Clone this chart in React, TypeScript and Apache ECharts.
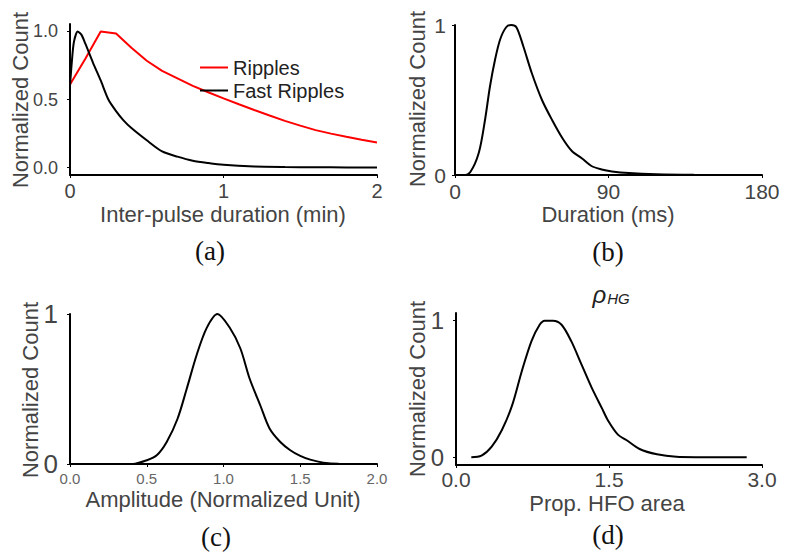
import React, { useEffect, useRef } from "react";
import * as echarts from "echarts";

// (a) Inter-pulse duration (min)
const ripplesX = [0, 0.1, 0.2, 0.3, 0.4, 0.5, 0.6, 0.7, 0.8, 0.9, 1.0, 1.1, 1.2, 1.3, 1.4, 1.5, 1.6, 1.7, 1.8, 1.9, 2.0];
const ripplesY = [0.61, 0.8, 1.0, 0.985, 0.88, 0.785, 0.71, 0.655, 0.6, 0.553, 0.508, 0.465, 0.423, 0.382, 0.343, 0.308, 0.275, 0.249, 0.226, 0.204, 0.184];
const fastX = [0, 0.01, 0.025, 0.05, 0.075, 0.1, 0.15, 0.2, 0.25, 0.3, 0.35, 0.4, 0.5, 0.6, 0.7, 0.8, 0.9, 1.0, 1.2, 1.4, 1.6, 1.8, 2.0];
const fastY = [0.6, 0.75, 0.92, 1.0, 0.975, 0.91, 0.77, 0.64, 0.5, 0.415, 0.345, 0.29, 0.2, 0.118, 0.08, 0.05, 0.033, 0.02, 0.008, 0.004, 0.002, 0.001, 0.0];

// (b) Duration (ms)
const durX = [0, 5, 9, 14, 17.5, 20.5, 23.5, 26.5, 30, 33, 36, 40, 45, 51, 57, 63, 68.5, 74.5, 80, 86, 92, 102, 118, 140, 170];
const durY = [0, 0, 0.02, 0.15, 0.36, 0.59, 0.77, 0.905, 0.985, 1.0, 0.985, 0.86, 0.68, 0.5, 0.365, 0.245, 0.16, 0.11, 0.06, 0.037, 0.024, 0.013, 0.005, 0.001, 0];

// (c) Amplitude (Normalized Unit)
const ampX = [0, 0.41, 0.5, 0.565, 0.63, 0.7, 0.76, 0.826, 0.89, 0.96, 1.04, 1.11, 1.17, 1.24, 1.3, 1.37, 1.435, 1.5, 1.565, 1.65, 1.75, 2.0];
const ampY = [0, 0, 0.025, 0.058, 0.147, 0.3, 0.5, 0.73, 0.906, 1.0, 0.91, 0.77, 0.57, 0.39, 0.237, 0.147, 0.092, 0.054, 0.029, 0.009, 0.001, 0];

// (d) Prop. HFO area
const areaX = [0.15, 0.25, 0.35, 0.45, 0.55, 0.645, 0.74, 0.82, 0.87, 0.95, 1.035, 1.13, 1.23, 1.33, 1.43, 1.49, 1.59, 1.67, 1.8, 1.97, 2.16, 2.4, 2.85];
const areaY = [0, 0.012, 0.078, 0.2, 0.38, 0.63, 0.85, 0.97, 1.0, 1.0, 0.97, 0.85, 0.68, 0.51, 0.36, 0.27, 0.164, 0.127, 0.061, 0.022, 0.004, 0.001, 0];

const yTicksA = [0, 0.5, 1];
const yTicksD = [0, 1];

const SANS = "'Liberation Sans', Arial, Helvetica, sans-serif";
const SERIF = "'Liberation Serif', 'Times New Roman', serif";
const TXT = "#444";

const zip = (xs: number[], ys: number[]) => xs.map((x, i) => [x, ys[i]]);

function xAxisCfg(gridIndex: number, min: number, max: number, interval: number, fontSize: number, margin: number, fmt: (v: number) => string, color = TXT) {
  return {
    type: "value",
    gridIndex,
    min,
    max,
    interval,
    axisLine: { show: true, onZero: false, lineStyle: { color: "#000", width: 2 } },
    axisTick: { show: true, length: 3, lineStyle: { color: "#000", width: 1 } },
    splitLine: { show: false },
    axisLabel: { fontSize, fontFamily: SANS, color, margin, formatter: fmt },
  };
}

function yAxisCfg(gridIndex: number, min: number, max: number, fontSize: number, margin: number, fmt: (v: number) => string, custom?: number[]) {
  const cfg: any = {
    type: "value",
    gridIndex,
    min,
    max,
    axisLine: { show: true, onZero: false, lineStyle: { color: "#000", width: 2 } },
    axisTick: { show: true, length: 3, lineStyle: { color: "#000", width: 1 } },
    splitLine: { show: false },
    axisLabel: { fontSize, fontFamily: SANS, color: TXT, margin, formatter: fmt },
  };
  if (custom) {
    cfg.axisLabel.customValues = custom;
    cfg.axisTick.customValues = custom;
  } else {
    cfg.interval = 1;
  }
  return cfg;
}

function lineSeries(name: string, xi: number, data: number[][], color: string, smooth: number | boolean) {
  return {
    name,
    type: "line",
    xAxisIndex: xi,
    yAxisIndex: xi,
    data,
    showSymbol: false,
    symbol: "none",
    smooth,
    lineStyle: { color, width: 2 },
    itemStyle: { color },
  };
}

function txt(text: string, x: number, y: number, fontSize: number, rotate = false, font = SANS, color = TXT) {
  return {
    type: "text",
    x,
    y,
    rotation: rotate ? Math.PI / 2 : 0,
    style: {
      text,
      fontSize,
      fontFamily: font,
      fill: color,
      align: "center",
      verticalAlign: "middle",
    },
  };
}

export default function App() {
  const ref = useRef<HTMLDivElement>(null);
  useEffect(() => {
    document.body.style.margin = "0";
    if (!ref.current) return;
    const chart = echarts.init(ref.current, undefined, { renderer: "svg" });
    const option: any = {
      animation: false,
      backgroundColor: "#fff",
      grid: [
        { left: 70, top: 24, width: 307, height: 151, outerBoundsMode: "none" },
        { left: 455, top: 25, width: 307, height: 150, outerBoundsMode: "none" },
        { left: 70, top: 314, width: 307, height: 150, outerBoundsMode: "none" },
        { left: 456, top: 313, width: 306, height: 152, outerBoundsMode: "none" },
      ],
      xAxis: [
        xAxisCfg(0, 0, 2, 1, 20, 6, (v: number) => String(v)),
        xAxisCfg(1, 0, 180, 90, 21, 6, (v: number) => String(v)),
        xAxisCfg(2, 0, 2, 0.5, 15, 7, (v: number) => v.toFixed(1), "#666"),
        xAxisCfg(3, 0, 3, 1.5, 21, 4, (v: number) => v.toFixed(1)),
      ],
      yAxis: [
        yAxisCfg(0, -0.055, 1.055, 18, 12, (v: number) => v.toFixed(1), yTicksA),
        yAxisCfg(1, 0, 1, 21, 9, (v: number) => String(v)),
        yAxisCfg(2, 0, 1, 26, 12, (v: number) => String(v)),
        yAxisCfg(3, -0.056, 1.056, 24, 12, (v: number) => String(v), yTicksD),
      ],
      legend: {
        show: true,
        orient: "vertical",
        left: 200,
        top: 56,
        padding: 0,
        itemGap: 0,
        itemWidth: 28,
        itemHeight: 2,
        textStyle: { fontSize: 20, fontFamily: SANS, color: "#222", lineHeight: 23 },
        data: [
          { name: "Ripples", icon: "rect" },
          { name: "Fast Ripples", icon: "rect" },
        ],
      },
      series: [
        lineSeries("Ripples", 0, zip(ripplesX, ripplesY), "#ff0000", false),
        lineSeries("Fast Ripples", 0, zip(fastX, fastY), "#000000", 0.25),
        lineSeries("Duration", 1, zip(durX, durY), "#000000", 0.3),
        lineSeries("Amplitude", 2, zip(ampX, ampY), "#000000", 0.3),
        lineSeries("Prop. HFO area", 3, zip(areaX, areaY), "#000000", 0.3),
      ],
      graphic: [
        txt("Normalized Count", 20, 100, 22, true),
        txt("Normalized Count", 417, 99, 22, true),
        txt("Normalized Count", 30, 390, 22, true),
        txt("Normalized Count", 417, 389, 22, true),
        txt("Inter-pulse duration (min)", 223, 214, 22),
        txt("Duration (ms)", 608, 214, 22),
        txt("Amplitude (Normalized Unit)", 223, 499, 22),
        txt("Prop. HFO area", 607, 503, 22),
        txt("(a)", 210, 251, 27, false, SERIF, "#111"),
        txt("(b)", 608, 252, 27, false, SERIF, "#111"),
        txt("(c)", 216, 537, 27, false, SERIF, "#111"),
        txt("(d)", 608, 535, 27, false, SERIF, "#111"),
        {
          type: "text",
          x: 611,
          y: 294,
          style: {
            text: "{p|ρ}{s|HG}",
            align: "center",
            verticalAlign: "middle",
            fill: "#333",
            rich: {
              p: { fontSize: 24, fontFamily: SANS, fontStyle: "italic", fill: "#222", verticalAlign: "bottom" },
              s: { fontSize: 15, fontFamily: SANS, fontStyle: "italic", fill: "#222", verticalAlign: "bottom", padding: [0, 0, 0, 1] },
            },
          },
        },
      ],
    };
    chart.setOption(option);
    return () => chart.dispose();
  }, []);
  return <div ref={ref} style={{ width: 785, height: 557 }} />;
}
